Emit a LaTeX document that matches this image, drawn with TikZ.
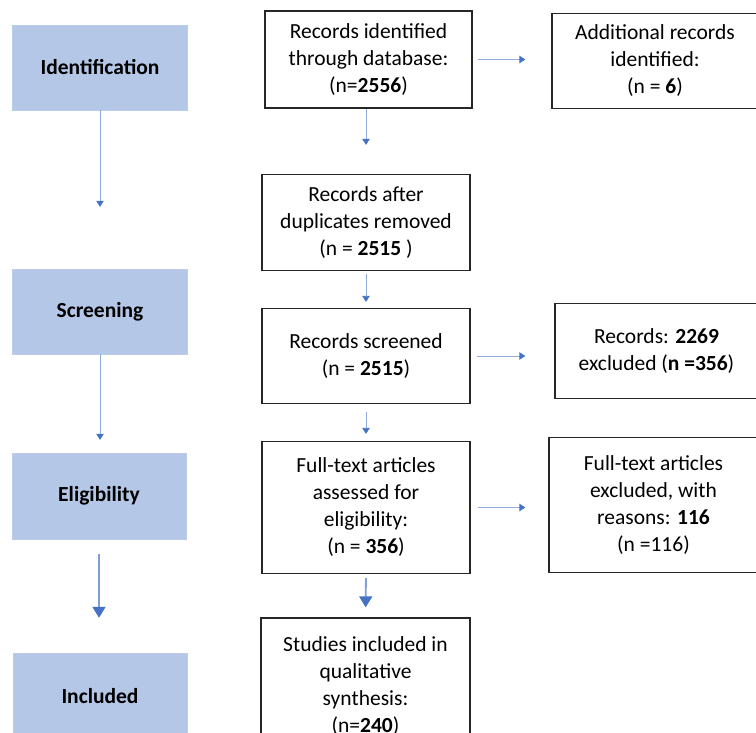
\documentclass[tikz,border=0pt]{standalone}
\usepackage{fontspec}
\setmainfont{Carlito}
\usetikzlibrary{arrows.meta}
\definecolor{stagefill}{HTML}{B4C7E7}
\definecolor{tipblue}{HTML}{4472C4}
\definecolor{lineblue}{HTML}{8FAADC}
\definecolor{boxline}{HTML}{262626}
\tikzset{
  stagebox/.style={fill=stagefill, draw=stagefill!90!white, inner sep=0pt,
    font=\fontsize{21.5}{27}\selectfont\bfseries, align=center},
  flowbox/.style={draw=boxline, line width=1.3pt, fill=white, inner sep=0pt,
    font=\fontsize{21.5}{27}\selectfont, align=center},
  thinarrow/.style={draw=lineblue, line width=0.8pt,
    -{Triangle[width=7.5pt,length=6pt,color=tipblue,fill=tipblue]}},
  thickarrow/.style={draw=lineblue!80!tipblue, line width=1.8pt,
    -{Triangle[width=13pt,length=11pt,color=tipblue,fill=tipblue]}}
}
\begin{document}
\begin{tikzpicture}[x=1pt,y=-1pt]
\useasboundingbox (0,0) rectangle (756,733);
\clip (0,0) rectangle (756,733);

% stage labels on the left
\node[stagebox, minimum width=175pt, minimum height=85pt] (ident) at (100,67.5) {Identification};
\node[stagebox, minimum width=175pt, minimum height=85pt] (screen) at (100,311.5) {Screening};
\node[stagebox, minimum width=174pt, minimum height=86pt] (elig) at (99,496) {Eligibility};
\node[stagebox, minimum width=174pt, minimum height=86pt] (incl) at (100,696) {Included};

% flow boxes
\node[flowbox, minimum width=207pt, minimum height=97pt] (db) at (368.5,59.5)
  {Records identified\\through database:\\(n=\textbf{2556})};
\node[flowbox, minimum width=206pt, minimum height=95pt] (extra) at (655,61)
  {Additional records\\identified:\\(n = \textbf{6})};
\node[flowbox, minimum width=208pt, minimum height=96pt] (dedup) at (366,222.5)
  {Records after\\duplicates removed\\(n = \textbf{2515} )};
\node[flowbox, minimum width=208pt, minimum height=95pt] (screened) at (366,356)
  {Records screened\\(n = \textbf{2515})};
\node[flowbox, minimum width=203pt, minimum height=95pt] (excl) at (656.5,351)
  {Records: \textbf{2269}\\excluded (\textbf{n =356})};
\node[flowbox, minimum width=208pt, minimum height=132pt] (fulltext) at (366,507.5)
  {Full-text articles\\assessed for\\eligibility:\\(n = \textbf{356})};
\node[flowbox, minimum width=209pt, minimum height=135pt] (ftexcl) at (653.5,505)
  {Full-text articles\\excluded, with\\reasons: \textbf{116}\\(n =116)};
\node[flowbox, minimum width=209pt, minimum height=136pt] (synth) at (365.5,686)
  {Studies included in\\qualitative\\synthesis:\\(n=\textbf{240})};

% stage arrows
\draw[thinarrow, shorten >=62pt] (ident.south) -- (ident.south |- screen.north);
\draw[thinarrow, shorten >=13pt] (screen.south) -- (screen.south |- elig.north);
\draw[thickarrow, shorten <=15pt, shorten >=35pt] (elig.south) -- (elig.south |- incl.north);

% flow arrows
\draw[thinarrow, shorten <=5pt, shorten >=26pt] (db.east) -- (extra.west |- db.east);
\draw[thinarrow, shorten >=29pt] (db.south -| dedup.north) -- (dedup.north);
\draw[thinarrow, shorten <=3pt, shorten >=6pt] (dedup.south) -- (screened.north);
\draw[thinarrow, shorten <=6pt, shorten >=29pt] (screened.east) -- (excl.west |- screened.east);
\draw[thinarrow, shorten <=8pt, shorten >=7pt] (screened.south) -- (fulltext.north);
\draw[thinarrow, shorten <=7pt, shorten >=23pt] (fulltext.east) -- (ftexcl.west |- fulltext.east);
\draw[thickarrow, shorten <=4pt, shorten >=10pt] (fulltext.south) -- (synth.north);
\end{tikzpicture}
\end{document}
